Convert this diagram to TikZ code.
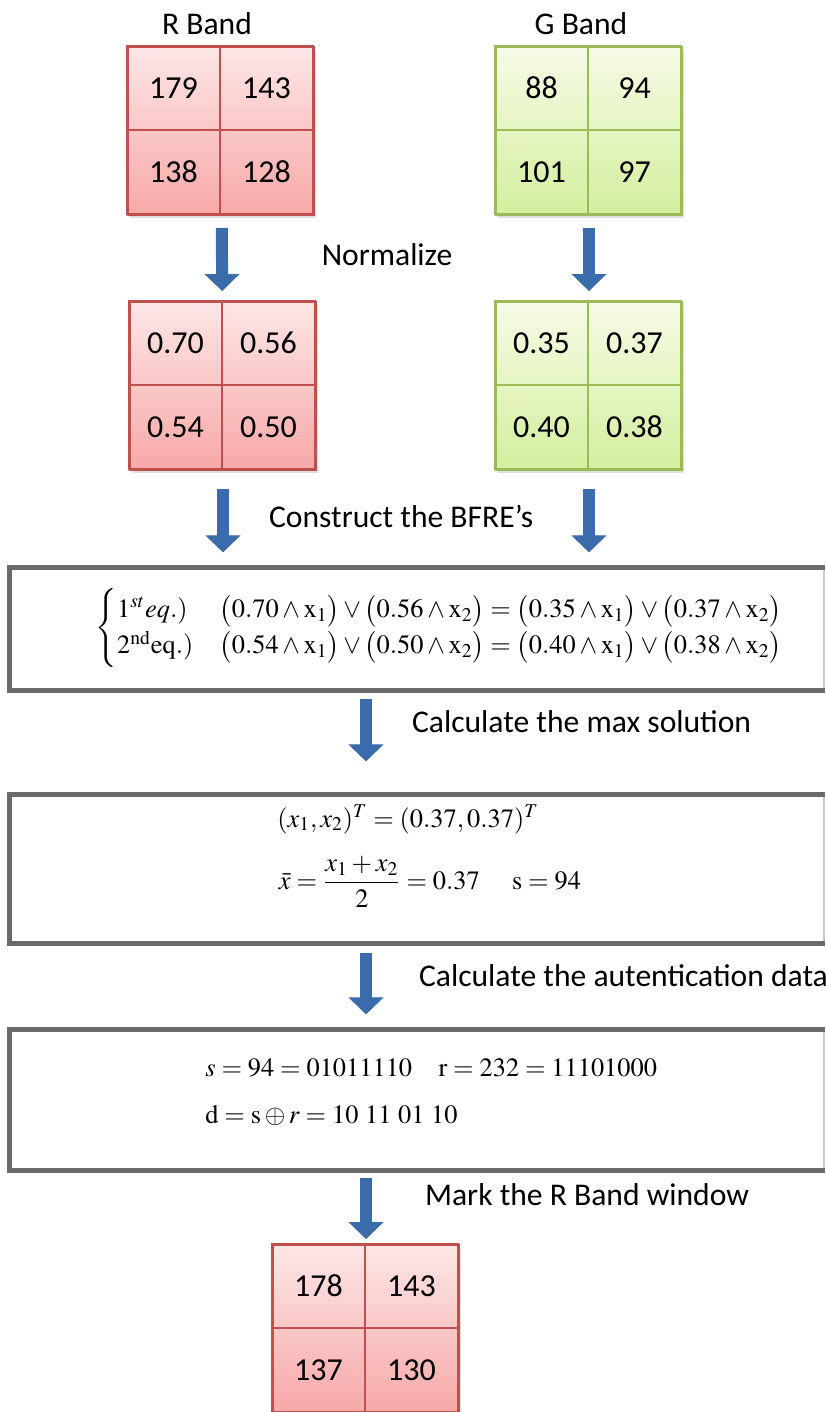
\documentclass[tikz,border=0pt]{standalone}
\usepackage{amsmath}
\usepackage{mathptmx}
\usepackage{fontspec}
\setmainfont{Liberation Serif}
\newfontfamily\calibri{Carlito}
\usepackage{xcolor}
\usetikzlibrary{positioning, arrows.meta, shadows}

\definecolor{rband}{HTML}{C0504D}
\definecolor{rtop}{HTML}{FDE6E6}
\definecolor{rbot}{HTML}{F7A8A8}
\definecolor{gband}{HTML}{9BBB59}
\definecolor{gtop}{HTML}{F6FBE6}
\definecolor{gbot}{HTML}{D4EE9E}
\definecolor{arrblue}{HTML}{3A6BAA}
\definecolor{framegray}{HTML}{6A6A6A}

\tikzset{
  rwin/.style={rectangle, minimum width=93pt, minimum height=84pt, top color=rtop, bottom color=rbot,
    draw=rband, line width=1pt, drop shadow={opacity=0.25, shadow xshift=1pt, shadow yshift=-1.5pt}},
  gwin/.style={rwin, top color=gtop, bottom color=gbot, draw=gband},
  rcell/.style={rectangle, draw=rband, line width=1pt, minimum width=46.5pt, minimum height=42pt,
    inner sep=0pt, outer sep=0pt, font=\calibri\fontsize{16}{18}\selectfont},
  gcell/.style={rcell, draw=gband},
  band/.style={font=\calibri\fontsize{15.8}{19}\selectfont},
  mathtxt/.style={inner sep=0pt, font=\fontsize{13.2}{16}\selectfont},
  eqbox/.style={rectangle, fill=white, draw=black!20, line width=0.6pt, minimum width=407pt},
  boxedge/.style={draw=framegray, line width=2.8pt},
  bigarrow/.style={line width=6pt, draw=arrblue, -{Triangle[width=17.5pt, length=8.5pt, line width=0.4pt]},
    shorten <=6pt, shorten >=2pt}
}

\begin{document}
\begin{tikzpicture}[x=0.5pt, y=-0.5pt]
\useasboundingbox (0,0) rectangle (825,1412);

% input windows
\node[band] (rtitle) at (207,24) {R Band};
\node[band] (gtitle) at (581,24) {G Band};
\node[rwin] (rIn) at (221,131) {};
\node[gwin] (gIn) at (589,131) {};
\node[rcell, anchor=north west] (rIn11) at (rIn.north west) {179};
\node[rcell, right=0pt of rIn11] (rIn12) {143};
\node[rcell, below=0pt of rIn11] (rIn21) {138};
\node[rcell, right=0pt of rIn21] (rIn22) {128};
\node[gcell, anchor=north west] (gIn11) at (gIn.north west) {88};
\node[gcell, right=0pt of gIn11] (gIn12) {94};
\node[gcell, below=0pt of gIn11] (gIn21) {101};
\node[gcell, right=0pt of gIn21] (gIn22) {97};

% normalized windows
\node[band] (normtxt) at (387,255) {Normalize};
\node[rwin] (rNorm) at (223,386) {};
\node[gwin] (gNorm) at (589,386) {};
\node[rcell, anchor=north west] (rNorm11) at (rNorm.north west) {0.70};
\node[rcell, right=0pt of rNorm11] (rNorm12) {0.56};
\node[rcell, below=0pt of rNorm11] (rNorm21) {0.54};
\node[rcell, right=0pt of rNorm21] (rNorm22) {0.50};
\node[gcell, anchor=north west] (gNorm11) at (gNorm.north west) {0.35};
\node[gcell, right=0pt of gNorm11] (gNorm12) {0.37};
\node[gcell, below=0pt of gNorm11] (gNorm21) {0.40};
\node[gcell, right=0pt of gNorm21] (gNorm22) {0.38};

% equation boxes
\node[band, anchor=west] (bfretxt) at (262,516) {Construct the BFRE’s};
\node[eqbox, minimum height=61pt] (bfre) at (417,629) {};
\draw[boxedge] (bfre.north east) -- (bfre.north west) -- (bfre.south west) -- (bfre.south east);
\node[mathtxt] (eqs) at (440,628) {$\begin{cases}
  1^{st}eq.) & \bigl(0.70\wedge\mathrm{x}_1\bigr)\vee\bigl(0.56\wedge\mathrm{x}_2\bigr)=\bigl(0.35\wedge\mathrm{x}_1\bigr)\vee\bigl(0.37\wedge\mathrm{x}_2\bigr)\\[-1pt]
  2^{\mathrm{nd}}\mathrm{eq.}) & \bigl(0.54\wedge\mathrm{x}_1\bigr)\vee\bigl(0.50\wedge\mathrm{x}_2\bigr)=\bigl(0.40\wedge\mathrm{x}_1\bigr)\vee\bigl(0.38\wedge\mathrm{x}_2\bigr)
\end{cases}$};

\node[band, anchor=west] (maxtxt) at (405,722) {Calculate the max solution};
\node[eqbox, minimum height=74pt] (sol) at (417,869) {};
\draw[boxedge] (sol.north east) -- (sol.north west) -- (sol.south west) -- (sol.south east);
\node[mathtxt, anchor=base] (sol1) at (408,827) {$(x_1,x_2)^T=(0.37,0.37)^T$};
\node[mathtxt, anchor=base] (sol2) at (430,889) {$\bar{x}=\dfrac{x_1+x_2}{2}=0.37\quad\;\mathrm{s}=94$};

\node[band, anchor=west] (authtxt) at (412,976) {Calculate the autentication data};
\node[eqbox, minimum height=70pt] (auth) at (417,1100) {};
\draw[boxedge] (auth.north east) -- (auth.north west) -- (auth.south west) -- (auth.south east);
\node[mathtxt, anchor=base west] (auth1) at (205,1076) {$s=94=01011110\quad\mathrm{r}=232=11101000$};
\node[mathtxt, anchor=base west] (auth2) at (205,1123) {$\mathrm{d}=\mathrm{s}\oplus r=10\ 11\ 01\ 10$};

% marked window
\node[band, anchor=west] (marktxt) at (418,1195) {Mark the R Band window};
\node[rwin] (rOut) at (366,1329) {};
\node[rcell, anchor=north west] (rOut11) at (rOut.north west) {178};
\node[rcell, right=0pt of rOut11] (rOut12) {143};
\node[rcell, below=0pt of rOut11] (rOut21) {137};
\node[rcell, right=0pt of rOut21] (rOut22) {130};

% arrows
\draw[bigarrow, shorten >=5pt] (rIn) -- (rNorm);
\draw[bigarrow, shorten >=5pt] (gIn) -- (gNorm);
\draw[bigarrow, shorten <=9pt, shorten >=7.5pt] (rNorm) -- (rNorm |- bfre.north);
\draw[bigarrow, shorten <=9pt, shorten >=7.5pt] (gNorm) -- (gNorm |- bfre.north);
\draw[bigarrow, shorten <=4pt, shorten >=16.5pt] (bfre.south -| rOut) -- (sol.north -| rOut);
\draw[bigarrow, shorten <=4.5pt, shorten >=7.5pt] (sol.south -| rOut) -- (auth.north -| rOut);
\draw[bigarrow, shorten <=3.5pt, shorten >=2.5pt] (auth.south -| rOut) -- (rOut);
\end{tikzpicture}
\end{document}
